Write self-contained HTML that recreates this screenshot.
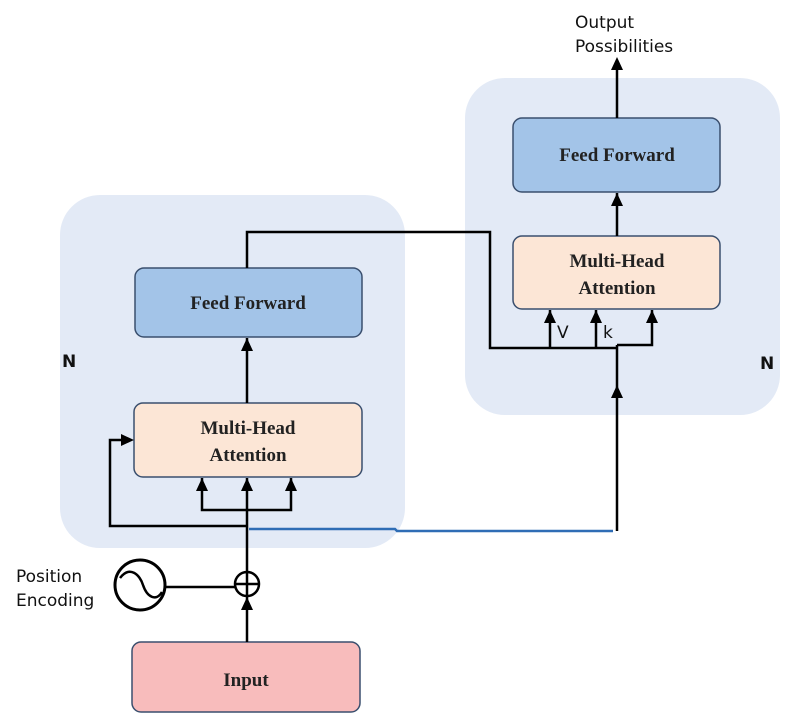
<!DOCTYPE html>
<html><head><meta charset="utf-8"><style>
body{margin:0;background:#fff;}
svg{display:block;}
.s{font-family:"Liberation Serif",serif;font-size:19px;fill:#222;font-weight:bold;}
.a{font-family:"DejaVu Sans","Liberation Sans",sans-serif;font-size:17px;fill:#111;}
</style></head><body>
<svg width="804" height="720" viewBox="0 0 804 720">
<rect x="60" y="195" width="345" height="353" rx="40" fill="#e3eaf6"/>
<rect x="465" y="78" width="315" height="337" rx="40" fill="#e3eaf6"/>
<rect x="135" y="268" width="227" height="69" rx="9" fill="#a3c4e8" stroke="#3a4f6e" stroke-width="1.5"/>
<text class="s" x="248" y="309" text-anchor="middle">Feed Forward</text>
<rect x="134" y="403" width="228" height="74" rx="9" fill="#fce6d6" stroke="#3a4f6e" stroke-width="1.5"/>
<text class="s" x="248" y="434" text-anchor="middle">Multi-Head</text>
<text class="s" x="248" y="461" text-anchor="middle">Attention</text>
<rect x="132" y="642" width="228" height="70" rx="9" fill="#f8bcbc" stroke="#3a4f6e" stroke-width="1.5"/>
<text class="s" x="246" y="686" text-anchor="middle">Input</text>
<rect x="513" y="118" width="207" height="74" rx="9" fill="#a3c4e8" stroke="#3a4f6e" stroke-width="1.5"/>
<text class="s" x="617" y="161" text-anchor="middle">Feed Forward</text>
<rect x="513" y="236" width="207" height="73" rx="9" fill="#fce6d6" stroke="#3a4f6e" stroke-width="1.5"/>
<text class="s" x="617" y="267" text-anchor="middle">Multi-Head</text>
<text class="s" x="617" y="294" text-anchor="middle">Attention</text>
<g stroke="#000" stroke-width="2.5" fill="none">
<line x1="247" y1="642" x2="247" y2="596"/>
<line x1="247" y1="572" x2="247" y2="478"/>
<circle cx="247" cy="584" r="12"/>
<line x1="235" y1="584" x2="259" y2="584"/>
<line x1="247" y1="572" x2="247" y2="596"/>
<circle cx="140" cy="585" r="25" stroke-width="3"/>
<path d="M120,578 C130,565 140,575 143,585 C147,597 156,602 162,592"/>
<line x1="165" y1="587" x2="235" y2="587"/>
<path d="M202,478 V510 H291 V478"/>
<path d="M247,526 H110 V440 H124"/>
<line x1="247" y1="403" x2="247" y2="338"/>
<path d="M247,268 V232 H490 V348 H617"/>
<line x1="617" y1="531" x2="617" y2="345"/>
<path d="M617,345 H652 V310"/>
<line x1="550" y1="348" x2="550" y2="310"/>
<line x1="596" y1="348" x2="596" y2="310"/>
<line x1="617" y1="236" x2="617" y2="193"/>
<line x1="617" y1="118" x2="617" y2="66"/>
</g>
<g fill="#000">
<polygon points="241,610 247,597 253,610"/>
<polygon points="196,491 202,478 208,491"/>
<polygon points="241,491 247,478 253,491"/>
<polygon points="285,491 291,478 297,491"/>
<polygon points="121,434 134,440 121,446"/>
<polygon points="241,351 247,338 253,351"/>
<polygon points="611,398 617,385 623,398"/>
<polygon points="646,323 652,310 658,323"/>
<polygon points="544,323 550,310 556,323"/>
<polygon points="590,323 596,310 602,323"/>
<polygon points="611,206 617,193 623,206"/>
<polygon points="611,70 617,57 623,70"/>
</g>
<path d="M249,529 H395 L397,531 H613" stroke="#2f6db5" stroke-width="2.5" fill="none"/>
<text class="a" x="557" y="338" font-size="19">V</text>
<text class="a" x="603" y="338" font-size="19">k</text>
<text class="a" x="62" y="367" font-size="20" font-weight="bold">N</text>
<text class="a" x="760" y="369" font-size="20" font-weight="bold">N</text>
<text class="a" x="16" y="582">Position</text>
<text class="a" x="16" y="606">Encoding</text>
<text class="a" x="575" y="28">Output</text>
<text class="a" x="575" y="52">Possibilities</text>
</svg>
</body></html>
